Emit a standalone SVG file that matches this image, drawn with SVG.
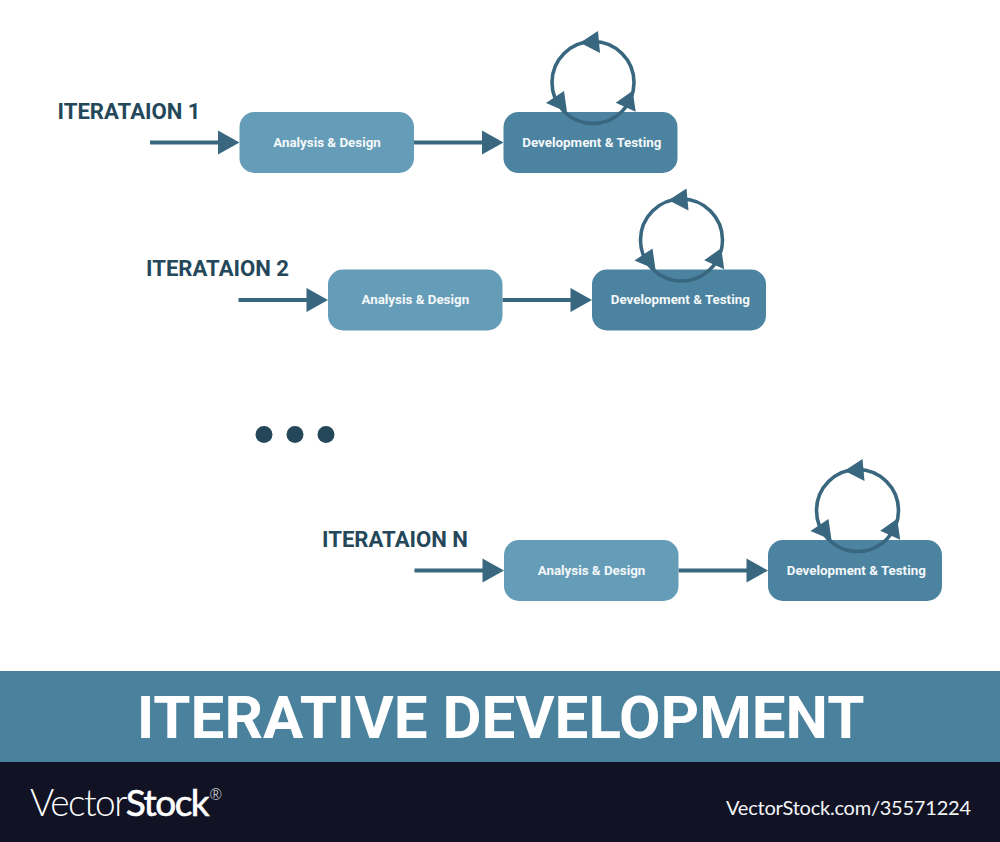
<svg xmlns="http://www.w3.org/2000/svg" width="1000" height="842" viewBox="0 0 1000 842">
<style>
text{font-family:Roboto,"Liberation Sans",sans-serif}
.a{fill:#659db8}
.d{fill:#4b83a0}
.t{fill:#f4f8fa;font-size:13.350px;font-weight:700;text-anchor:middle}
.l{fill:#24485a;font-size:22.150px;font-weight:700}
.w{stroke:#38677f;stroke-width:4;fill:none}
.h{fill:#38677f}
.c{stroke:#38677f;stroke-width:3.600;fill:none}
</style>
<defs>
<g id="loop"><circle class="c" cx="593" cy="82.500" r="41"/><polygon class="h" points="580,42.700 598,31 600,53"/><polygon class="h" points="546,103 564,91 567,112"/><polygon class="h" points="615.700,102.700 632.700,90.700 635.700,111.700"/></g>
<g id="pair"><path class="w" d="M150 142.500H222M414 142.500H486"/><polygon class="h" points="218,130.500 239.500,142.500 218,154.500"/><polygon class="h" points="482,130.500 503.500,142.500 482,154.500"/></g>
</defs>
<rect width="1000" height="842" fill="#fff"/>
<g id="connectors">
<use href="#pair"/>
<use href="#pair" x="88.500" y="157.500"/>
<use href="#pair" x="264.500" y="428"/>
</g>
<g id="label-1"><text class="l" x="57.500" y="118.500">ITERATAION 1</text></g>
<g id="label-2"><text class="l" x="146" y="276">ITERATAION 2</text></g>
<g id="label-n"><text class="l" x="322" y="546.500">ITERATAION N</text></g>
<g id="analysis-1"><rect class="a" x="239.500" y="112" width="174.500" height="61" rx="15"/><text class="t" x="327" y="146.800">Analysis &amp; Design</text></g>
<g id="development-1"><rect class="d" x="503.500" y="112" width="174" height="61" rx="15"/><use href="#loop"/><text class="t" x="591.800" y="146.800">Development &amp; Testing</text></g>
<g id="analysis-2"><rect class="a" x="328" y="269.500" width="174.500" height="61" rx="15"/><text class="t" x="415.300" y="304">Analysis &amp; Design</text></g>
<g id="development-2"><rect class="d" x="592" y="269.500" width="174" height="61" rx="15"/><use href="#loop" x="88.500" y="157.500"/><text class="t" x="680.300" y="304">Development &amp; Testing</text></g>
<g id="dots" fill="#24485a"><circle cx="264" cy="434.500" r="8.500"/><circle cx="295" cy="434.500" r="8.500"/><circle cx="326" cy="434.500" r="8.500"/></g>
<g id="analysis-n"><rect class="a" x="504" y="540" width="174.500" height="61" rx="15"/><text class="t" x="591.500" y="574.800">Analysis &amp; Design</text></g>
<g id="development-n"><rect class="d" x="768" y="540" width="174" height="61" rx="15"/><use href="#loop" x="264.500" y="428"/><text class="t" x="856.300" y="574.800">Development &amp; Testing</text></g>
<g id="banner"><rect y="671" width="1000" height="91" fill="#4a829e"/><text x="500.500" y="738" fill="#fff" font-size="60.100" font-weight="700" text-anchor="middle">ITERATIVE DEVELOPMENT</text></g>
<g id="footer"><rect y="762" width="1000" height="80" fill="#111325"/>
<text x="30" y="816" fill="#fff" font-size="37" font-weight="300" letter-spacing="-1.500" style="font-family:Lato,'Open Sans',sans-serif">Vector<tspan font-weight="400" stroke="#fff" stroke-width="0.600">Stock</tspan></text>
<text x="209.500" y="800" fill="#fff" font-size="15" font-weight="300" style="font-family:Lato,sans-serif">®</text>
<text x="726" y="815" fill="#f4f5f7" font-size="20" font-weight="400" textLength="245" style="font-family:Lato,'Open Sans',sans-serif">VectorStock.com/35571224</text></g>
</svg>
